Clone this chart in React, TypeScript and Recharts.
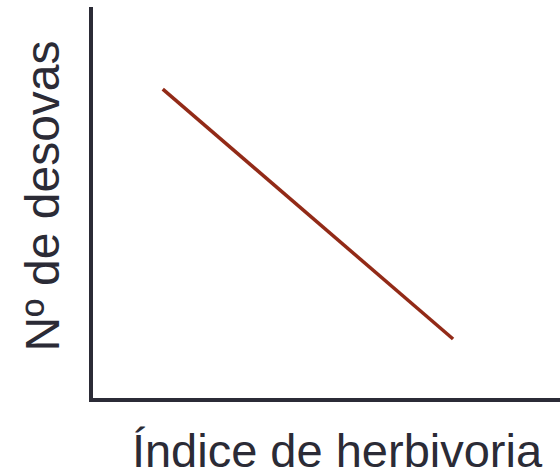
import { LineChart, Line, XAxis, YAxis } from "recharts";

// fitted line (axes carry no numbers, 0-100 scale)
const herbivoria = [15.3, 77.2];
const desovas = [79.5, 15.6];

const xLabel = "Índice de herbivoria";
const yLabel = "Nº de desovas";

const data = herbivoria.map((x, i) => ({ x, y: desovas[i] }));

const ink = "#2b2b36";
const font = "'Liberation Sans', Arial, sans-serif";

export default function App() {
  return (
    <div style={{ position: "absolute", left: 0, top: 0, background: "#fff" }}>
      <LineChart
        width={560}
        height={473}
        data={data}
        margin={{ top: 9, right: 0, left: 0, bottom: 0 }}
      >
        <XAxis
          type="number"
          dataKey="x"
          domain={[0, 100]}
          tick={false}
          tickLine={false}
          height={73}
          axisLine={{ stroke: ink, strokeWidth: 4, strokeLinecap: "square" }}
          label={{
            content: () => (
              <text
                x={337}
                y={467}
                textAnchor="middle"
                fontFamily={font}
                fontSize={47}
                fill={ink}
              >
                {xLabel}
              </text>
            ),
          }}
        />
        <YAxis
          type="number"
          dataKey="y"
          domain={[0, 100]}
          tick={false}
          tickLine={false}
          width={91}
          axisLine={{ stroke: ink, strokeWidth: 4, strokeLinecap: "square" }}
          label={{
            content: () => (
              <text
                x={59}
                y={196}
                textAnchor="middle"
                transform="rotate(-90 59 196)"
                fontFamily={font}
                fontSize={48}
                fill={ink}
              >
                {yLabel}
              </text>
            ),
          }}
        />
        <Line
          type="linear"
          dataKey="y"
          stroke="#922a17"
          strokeWidth={3.5}
          dot={false}
          isAnimationActive={false}
        />
      </LineChart>
    </div>
  );
}
